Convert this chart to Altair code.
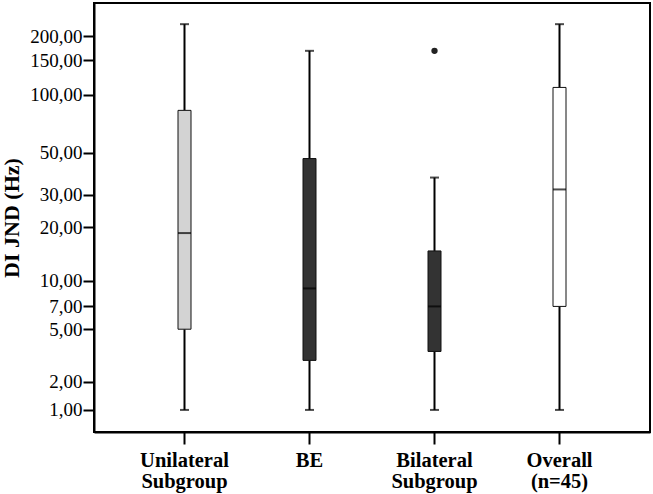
import altair as alt
import pandas as pd

# Summary statistics for each group (DI JND in Hz)
groups = ["Unilateral Subgroup", "BE", "Bilateral Subgroup", "Overall (n=45)"]
whisker_low = [1.0, 1.0, 1.0, 1.0]
q1 = [5.0, 3.0, 3.5, 7.0]
median = [18.6, 9.0, 7.0, 32.0]
q3 = [83.0, 46.6, 14.8, 109.0]
whisker_high = [230.0, 168.0, 37.0, 230.0]
box_fill = ["#d3d3d3", "#333333", "#333333", "#ffffff"]

outlier_group = ["Bilateral Subgroup"]
outlier_value = [168.0]

y_ticks = [1, 2, 5, 7, 10, 20, 30, 50, 100, 150, 200]

stats = pd.DataFrame({
    "group": groups,
    "low": whisker_low,
    "q1": q1,
    "median": median,
    "q3": q3,
    "high": whisker_high,
    "fill": box_fill,
})
outliers = pd.DataFrame({"group": outlier_group, "value": outlier_value})

FONT = "Liberation Serif"

x_enc = alt.X(
    "group:N",
    sort=groups,
    scale=alt.Scale(type="band", paddingInner=0, paddingOuter=0.224),
    axis=alt.Axis(
        title=None,
        labelAngle=0,
        labelFont=FONT,
        labelFontSize=20.5,
        labelFontWeight="bold",
        labelColor="black",
        labelExpr="split(datum.label, ' ')",
        labelLineHeight=21,
        labelBaseline="top",
        labelPadding=6,
        tickSize=12,
        tickWidth=2,
        tickColor="black",
        domainColor="black",
        domainWidth=2,
    ),
)

y_scale = alt.Scale(type="symlog", constant=1.55, domain=[0.42, 295], nice=False, zero=False)
y_axis = alt.Axis(
    title="DI JND (Hz)",
    titleFont=FONT,
    titleFontSize=22,
    titleFontWeight="bold",
    titleColor="black",
    titlePadding=6,
    values=y_ticks,
    labelExpr="replace(format(datum.value, '.2f'), '.', ',')",
    labelFont=FONT,
    labelFontSize=19,
    labelColor="black",
    labelPadding=1,
    tickSize=11,
    tickWidth=2,
    tickColor="black",
    domainColor="black",
    domainWidth=2,
    grid=False,
)

base = alt.Chart(stats).encode(x=x_enc)

lower_whisker = base.mark_rule(color="black", strokeWidth=2).encode(
    y=alt.Y("low:Q", scale=y_scale, axis=y_axis), y2="q1:Q"
)
upper_whisker = base.mark_rule(color="black", strokeWidth=2).encode(
    y=alt.Y("q3:Q", scale=y_scale), y2="high:Q"
)
low_cap = base.mark_tick(color="black", size=9, thickness=2).encode(
    y=alt.Y("low:Q", scale=y_scale)
)
high_cap = base.mark_tick(color="black", size=9, thickness=2).encode(
    y=alt.Y("high:Q", scale=y_scale)
)
box = base.mark_bar(size=13, stroke="#111111", strokeWidth=1).encode(
    y=alt.Y("q1:Q", scale=y_scale),
    y2="q3:Q",
    fill=alt.Fill("fill:N", scale=None),
)
mid = base.mark_tick(color="black", size=13, thickness=2).encode(
    y=alt.Y("median:Q", scale=y_scale)
)
points = alt.Chart(outliers).mark_point(filled=True, color="#222222", size=40, opacity=1).encode(
    x=alt.X("group:N", sort=groups),
    y=alt.Y("value:Q", scale=y_scale),
)

chart = (
    alt.layer(lower_whisker, upper_whisker, low_cap, high_cap, box, mid, points)
    .properties(
        width=556,
        height=429,
        autosize=alt.AutoSizeParams(type="none"),
        padding={"left": 94, "top": 3, "right": 3, "bottom": 62},
        background="white",
    )
    .configure_view(stroke="black", strokeWidth=2)
)

chart.save("out.html", embed_options={"renderer": "svg", "actions": False})
